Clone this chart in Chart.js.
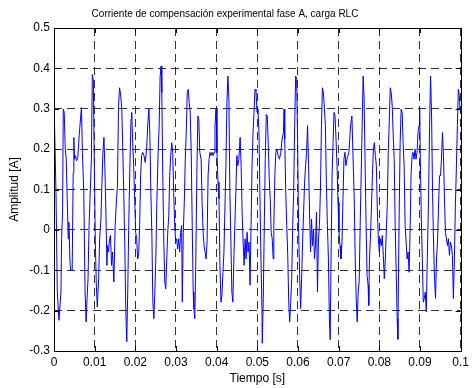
<!DOCTYPE html>
<html>
<head>
<meta charset="utf-8">
<script src="https://cdn.jsdelivr.net/npm/chart.js@4/dist/chart.umd.min.js"></script>
<style>
  html, body { margin: 0; padding: 0; background: #ffffff; }
  canvas { display: block; }
</style>
</head>
<body>
<canvas id="grafico" width="473" height="388"></canvas>
<script>
// Corriente de compensación medida en la fase A (carga RLC)
const tiempo = [
  0.00000, 0.00049, 0.00081, 0.00122, 0.00171, 0.00187, 0.00211, 0.00228, 0.00252, 0.00276,
  0.00301, 0.00325, 0.00350, 0.00366, 0.00390, 0.00407, 0.00447, 0.00472, 0.00488, 0.00504,
  0.00528, 0.00553, 0.00585, 0.00618, 0.00675, 0.00699, 0.00732, 0.00764, 0.00789, 0.00813,
  0.00837, 0.00862, 0.00886, 0.00919, 0.00943, 0.00967, 0.00992, 0.01016, 0.01041, 0.01065,
  0.01098, 0.01122, 0.01154, 0.01179, 0.01203, 0.01228, 0.01252, 0.01276, 0.01301, 0.01317,
  0.01341, 0.01366, 0.01390, 0.01415, 0.01439, 0.01472, 0.01504, 0.01537, 0.01561, 0.01585,
  0.01610, 0.01634, 0.01667, 0.01691,
  0.01715, 0.01740, 0.01764, 0.01789, 0.01813, 0.01838, 0.01870, 0.01894, 0.01911, 0.01935,
  0.01959, 0.01984, 0.02008, 0.02033, 0.02057, 0.02081, 0.02106, 0.02130, 0.02155, 0.02179,
  0.02212, 0.02244, 0.02277, 0.02309, 0.02334, 0.02358, 0.02382, 0.02407, 0.02431, 0.02456,
  0.02480, 0.02504, 0.02529, 0.02561, 0.02586, 0.02610, 0.02635, 0.02651, 0.02675, 0.02700,
  0.02724, 0.02748, 0.02773, 0.02797, 0.02822, 0.02846, 0.02870, 0.02895, 0.02919, 0.02943,
  0.02968, 0.02992, 0.03017, 0.03041, 0.03065, 0.03090, 0.03114, 0.03138, 0.03155, 0.03179,
  0.03204, 0.03228, 0.03252, 0.03277, 0.03301, 0.03325, 0.03350, 0.03374, 0.03399, 0.03423,
  0.03439,
  0.03463, 0.03488, 0.03512, 0.03537, 0.03561, 0.03585, 0.03618, 0.03642, 0.03667, 0.03691,
  0.03715, 0.03740, 0.03764, 0.03789, 0.03813, 0.03837, 0.03862, 0.03886, 0.03911, 0.03935,
  0.03959, 0.03984, 0.04008, 0.04033, 0.04057, 0.04081, 0.04106, 0.04130, 0.04154, 0.04179,
  0.04203, 0.04228, 0.04252, 0.04276, 0.04301, 0.04325, 0.04350, 0.04374, 0.04398, 0.04423,
  0.04447, 0.04472, 0.04496, 0.04520, 0.04545, 0.04577, 0.04602, 0.04626, 0.04650, 0.04675,
  0.04699, 0.04724, 0.04748, 0.04772, 0.04797, 0.04821, 0.04846, 0.04870, 0.04894, 0.04919,
  0.04943, 0.04967, 0.04992, 0.05016, 0.05041, 0.05065, 0.05089, 0.05114,
  0.05122, 0.05146, 0.05171, 0.05195, 0.05220, 0.05244, 0.05268, 0.05293, 0.05317, 0.05341,
  0.05366, 0.05390, 0.05406, 0.05431, 0.05455, 0.05479, 0.05512, 0.05545, 0.05577, 0.05610,
  0.05642, 0.05658, 0.05674, 0.05699, 0.05723, 0.05748, 0.05772, 0.05796, 0.05821, 0.05845,
  0.05870, 0.05894, 0.05918, 0.05943, 0.05967, 0.05991, 0.06016, 0.06040, 0.06065, 0.06089,
  0.06113, 0.06138, 0.06162, 0.06187, 0.06211, 0.06235, 0.06260, 0.06284, 0.06309, 0.06333,
  0.06357, 0.06382, 0.06406, 0.06430, 0.06455, 0.06479, 0.06504, 0.06528, 0.06552, 0.06577,
  0.06601, 0.06626, 0.06650, 0.06674, 0.06699, 0.06723, 0.06748, 0.06772, 0.06792,
  0.06813, 0.06838, 0.06862, 0.06886, 0.06911, 0.06935, 0.06960, 0.06984, 0.07008, 0.07033,
  0.07057, 0.07082, 0.07106, 0.07130, 0.07155, 0.07179, 0.07204, 0.07228, 0.07252, 0.07277,
  0.07301, 0.07326, 0.07350, 0.07383, 0.07407, 0.07431, 0.07456, 0.07480, 0.07504, 0.07529,
  0.07553, 0.07578, 0.07602, 0.07626, 0.07651, 0.07675, 0.07699, 0.07724, 0.07740, 0.07757,
  0.07781, 0.07805, 0.07830, 0.07854, 0.07878, 0.07903, 0.07927, 0.07952, 0.07976, 0.08000,
  0.08025, 0.08049, 0.08073, 0.08098, 0.08122, 0.08147, 0.08171, 0.08195, 0.08220, 0.08244,
  0.08269, 0.08293, 0.08317, 0.08342, 0.08366, 0.08390, 0.08415, 0.08439, 0.08455,
  0.08488, 0.08512, 0.08537, 0.08561, 0.08585, 0.08610, 0.08634, 0.08659, 0.08683, 0.08707,
  0.08732, 0.08756, 0.08780, 0.08805, 0.08829, 0.08854, 0.08878, 0.08902, 0.08927, 0.08951,
  0.08976, 0.08992, 0.09008, 0.09033, 0.09057, 0.09081, 0.09106, 0.09130, 0.09155, 0.09179,
  0.09211, 0.09236, 0.09260, 0.09285, 0.09309, 0.09333, 0.09358, 0.09382, 0.09406, 0.09431,
  0.09455, 0.09480, 0.09504, 0.09528, 0.09553, 0.09577, 0.09602, 0.09626, 0.09650, 0.09675,
  0.09699, 0.09724, 0.09748, 0.09772, 0.09797, 0.09821, 0.09846, 0.09870, 0.09894, 0.09919,
  0.09943, 0.09967, 0.09984, 0.10000
];

const corriente = [
  0.323, 0.093, -0.154, -0.224, -0.154, -0.022, 0.044, 0.299, 0.291, 0.200,
  0.175, 0.077, -0.022, 0.019, -0.072, -0.100, -0.100, 0.142, 0.229, 0.175,
  0.184, 0.171, 0.179, 0.233, 0.303, 0.192, 0.093, -0.154, -0.228, -0.170,
  -0.121, 0.011, 0.077, 0.175, 0.385, 0.369, 0.159, -0.030, -0.137, -0.191,
  -0.121, -0.022, 0.027, 0.118, 0.192, 0.229, 0.151, 0.044, -0.088, -0.039,
  -0.055, -0.022, -0.014, -0.088, -0.055, -0.129, 0.011, 0.077, 0.109, 0.299,
  0.352, 0.340, 0.299, 0.200,
  0.093, -0.030, -0.195, -0.277, -0.154, 0.011, 0.175, 0.274, 0.291, 0.216,
  0.159, 0.077, -0.006, -0.022, -0.072, -0.063, 0.011, 0.134, 0.184, 0.192,
  0.184, 0.167, 0.200, 0.266, 0.299, 0.233, 0.093, -0.014, -0.179, -0.220,
  -0.154, -0.072, 0.068, 0.192, 0.258, 0.381, 0.406, 0.340, 0.134, -0.030,
  -0.129, -0.146, -0.072, -0.006, 0.035, 0.134, 0.184, 0.216, 0.192, 0.093,
  0.011, -0.030, -0.022, -0.047, -0.022, -0.055, -0.006, 0.011, -0.179, -0.006,
  0.068, 0.175, 0.241, 0.340, 0.348, 0.315, 0.291, 0.192, 0.011, -0.154,
  -0.195,
  -0.220, -0.072, 0.134, 0.282, 0.274, 0.192, 0.175, 0.068, -0.006, -0.039,
  -0.055, -0.072, -0.030, 0.134, 0.175, 0.192, 0.184, 0.192, 0.184, 0.192,
  0.258, 0.299, 0.192, 0.118, 0.077, -0.088, -0.179, -0.162, -0.105, -0.055,
  0.052, 0.159, 0.315, 0.381, 0.323, 0.093, -0.030, -0.154, -0.179, -0.072,
  0.011, 0.093, 0.184, 0.159, 0.175, 0.229, 0.159, 0.044, -0.030, -0.088,
  -0.022, -0.072, -0.006, -0.055, -0.030, -0.137, 0.011, 0.159, 0.241, 0.291,
  0.348, 0.344, 0.291, 0.299, 0.241, 0.077, -0.072, -0.195,
  -0.281, -0.170, 0.011, 0.175, 0.286, 0.282, 0.216, 0.126, 0.077, -0.006,
  -0.022, -0.072, 0.011, 0.134, 0.192, 0.200, 0.184, 0.175, 0.192, 0.225,
  0.241, 0.299, 0.225, 0.093, 0.011, -0.063, -0.179, -0.228, -0.179, -0.121,
  0.011, 0.093, 0.258, 0.381, 0.373, 0.216, -0.006, -0.113, -0.195, -0.121,
  -0.030, 0.044, 0.118, 0.159, 0.192, 0.258, 0.159, 0.044, -0.055, 0.027,
  -0.039, 0.002, -0.072, -0.039, 0.044, -0.154, -0.022, 0.011, 0.101, 0.258,
  0.352, 0.340, 0.299, 0.258, 0.109, 0.011, -0.072, -0.220, -0.272,
  -0.072, 0.134, 0.216, 0.291, 0.282, 0.225, 0.159, 0.068, -0.006, -0.039,
  -0.072, -0.030, 0.077, 0.175, 0.192, 0.159, 0.175, 0.184, 0.192, 0.233,
  0.266, 0.282, 0.192, 0.077, -0.072, -0.170, -0.228, -0.154, -0.129, 0.011,
  0.134, 0.258, 0.381, 0.323, 0.159, 0.011, -0.113, -0.137, -0.187, -0.072,
  -0.022, 0.052, 0.134, 0.200, 0.216, 0.184, 0.159, 0.044, -0.022, -0.055,
  -0.022, -0.039, -0.014, -0.063, -0.121, -0.072, -0.006, 0.060, 0.192, 0.266,
  0.352, 0.340, 0.307, 0.233, 0.175, 0.011, -0.105, -0.220, -0.271,
  0.044, 0.216, 0.299, 0.291, 0.216, 0.159, 0.011, -0.030, -0.072, -0.055,
  -0.105, -0.006, 0.134, 0.184, 0.192, 0.175, 0.200, 0.175, 0.192, 0.241,
  0.258, 0.299, 0.175, 0.027, -0.072, -0.179, -0.170, -0.154, -0.203, -0.072,
  0.077, 0.258, 0.381, 0.282, 0.093, -0.030, -0.121, -0.170, -0.072, -0.030,
  0.052, 0.134, 0.134, 0.175, 0.241, 0.184, 0.077, -0.006, -0.022, -0.039,
  -0.022, -0.063, -0.030, -0.039, -0.063, -0.170, -0.072, 0.060, 0.151, 0.258,
  0.348, 0.332, 0.299, 0.290
];

// Etiquetas de los ejes
const ticksX = ['0', '0.01', '0.02', '0.03', '0.04', '0.05', '0.06', '0.07', '0.08', '0.09', '0.1'];
const ticksY = ['-0.3', '-0.2', '-0.1', '0', '0.1', '0.2', '0.3', '0.4', '0.5'];

const titulo = 'Corriente de compensación experimental fase A, carga RLC';
const tituloX = 'Tiempo [s]';
const tituloY = 'Amplitud [A]';

const FUENTE = '"Liberation Sans", Arial, sans-serif';

// Marco cerrado, marcas de división hacia dentro y título superior
const marcoPlugin = {
  id: 'marco',
  afterDraw(chart) {
    const { ctx, chartArea: a, scales } = chart;
    ctx.save();
    ctx.strokeStyle = '#000000';
    ctx.lineWidth = 1;
    const L = 5;
    ctx.beginPath();
    scales.x.ticks.forEach(t => {
      const px = Math.round(scales.x.getPixelForValue(t.value)) + 0.5;
      ctx.moveTo(px, a.bottom); ctx.lineTo(px, a.bottom - L);
      ctx.moveTo(px, a.top); ctx.lineTo(px, a.top + L);
    });
    scales.y.ticks.forEach(t => {
      const py = Math.round(scales.y.getPixelForValue(t.value)) + 0.5;
      ctx.moveTo(a.left, py); ctx.lineTo(a.left + L, py);
      ctx.moveTo(a.right, py); ctx.lineTo(a.right - L, py);
    });
    ctx.stroke();
    ctx.strokeRect(Math.round(a.left) + 0.5, Math.round(a.top) + 0.5,
                   Math.round(a.right - a.left), Math.round(a.bottom - a.top));
    ctx.fillStyle = '#000000';
    ctx.font = '10px ' + FUENTE;
    ctx.textAlign = 'center';
    ctx.textBaseline = 'middle';
    ctx.fillText(titulo, 225, 14);
    ctx.restore();
  }
};

new Chart(document.getElementById('grafico'), {
  type: 'line',
  data: {
    datasets: [{
      data: tiempo.map((t, i) => ({ x: t, y: corriente[i] })),
      borderColor: '#0000ff',
      borderWidth: 1,
      pointRadius: 0,
      tension: 0,
      fill: false
    }]
  },
  options: {
    responsive: false,
    animation: false,
    layout: { padding: { top: 28, right: 9, left: 0, bottom: 0 } },
    plugins: {
      legend: { display: false },
      tooltip: { enabled: false },
      title: { display: false }
    },
    scales: {
      x: {
        type: 'linear',
        min: 0,
        max: 0.1,
        afterBuildTicks: s => { s.ticks = ticksX.map(v => ({ value: Number(v) })); },
        afterFit: s => { s.height = 37; },
        ticks: {
          autoSkip: false,
          maxRotation: 0,
          padding: 4,
          color: '#000000',
          font: { family: FUENTE, size: 12 },
          callback: (v, i) => ticksX[i]
        },
        grid: { color: 'rgba(0,0,0,0.8)', lineWidth: 1, drawTicks: false },
        border: { display: false, dash: [8, 5] },
        title: {
          display: true,
          text: tituloX,
          color: '#000000',
          font: { family: FUENTE, size: 12 },
          padding: { top: 0, bottom: 2 }
        }
      },
      y: {
        type: 'linear',
        min: -0.3,
        max: 0.5,
        afterBuildTicks: s => { s.ticks = ticksY.map(v => ({ value: Number(v) })); },
        afterFit: s => { s.width = 54; },
        ticks: {
          autoSkip: false,
          padding: 4,
          color: '#000000',
          font: { family: FUENTE, size: 12 },
          callback: (v, i) => ticksY[i]
        },
        grid: { color: 'rgba(0,0,0,0.8)', lineWidth: 1, drawTicks: false },
        border: { display: false, dash: [8, 5] },
        title: {
          display: true,
          text: tituloY,
          color: '#000000',
          font: { family: FUENTE, size: 12 },
          padding: { top: 7, bottom: 0 }
        }
      }
    }
  },
  plugins: [marcoPlugin]
});
</script>
</body>
</html>
